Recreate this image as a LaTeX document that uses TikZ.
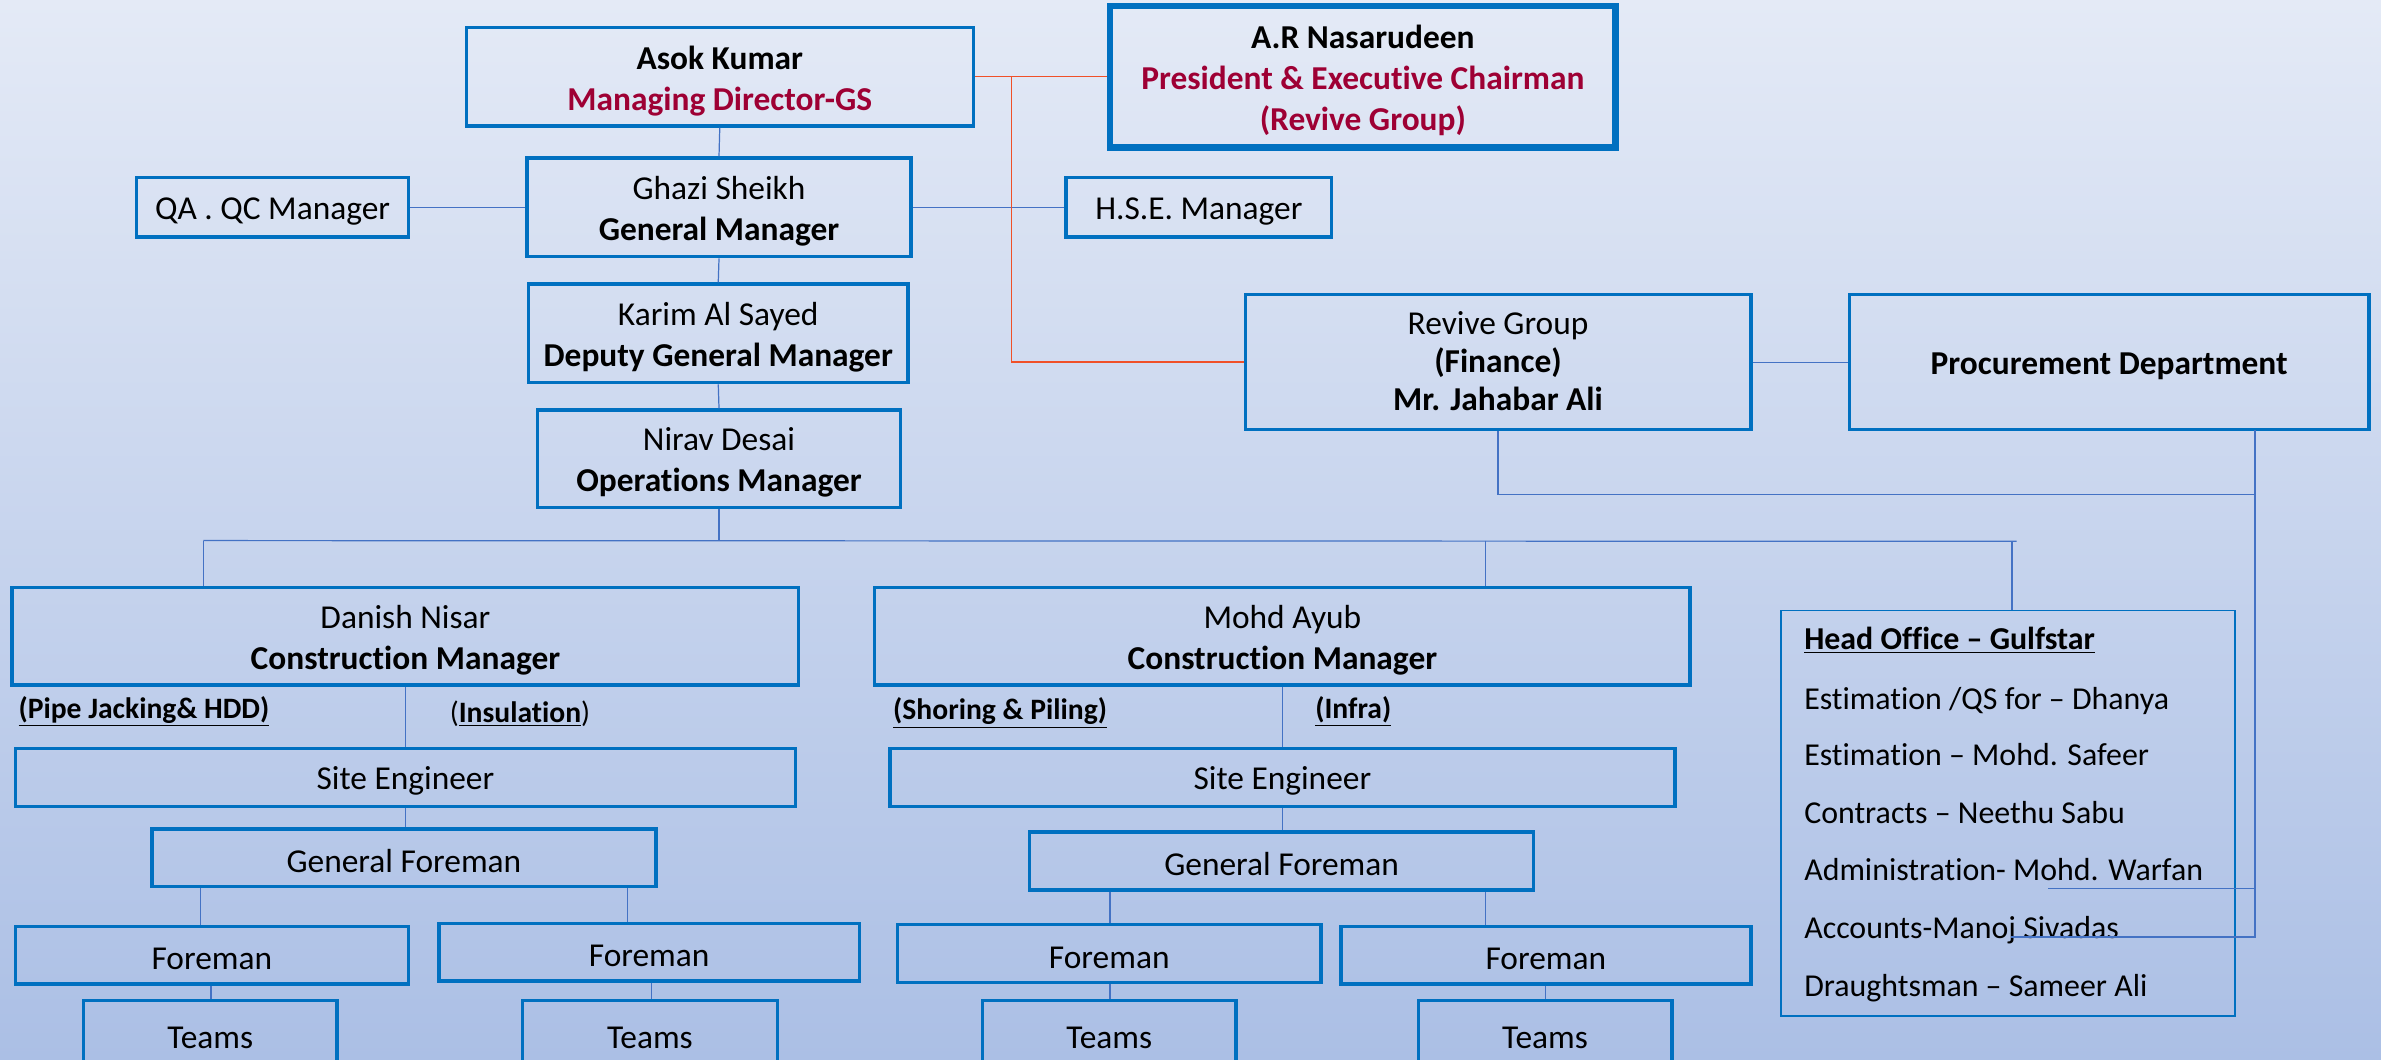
\documentclass[tikz,border=0pt]{standalone}
\usepackage{fontspec}
\setmainfont{Carlito}[Ligatures={NoCommon}]
\definecolor{boxblue}{RGB}{0,112,192}
\definecolor{linkblue}{RGB}{68,114,196}
\definecolor{linkred}{RGB}{240,80,40}
\definecolor{titlered}{RGB}{158,0,52}
\definecolor{bgtop}{RGB}{228,234,246}
\definecolor{bgmid}{RGB}{196,211,236}
\definecolor{bgbot}{RGB}{171,191,229}
\begin{document}
\begin{tikzpicture}[x=1pt,y=-1pt,
  box/.style={draw=boxblue, line width=2.2pt, inner sep=0pt, align=center, font=\fontsize{22}{27}\selectfont,
    execute at begin node={\rule{0pt}{19.5pt}}},
  twobox/.style={box, execute at begin node={}, text height=44pt, text depth=0pt},
  bigbox/.style={box, line width=4.4pt, execute at begin node={}, text height=71pt, text depth=0pt},
  thinbox/.style={draw=boxblue, line width=1.2pt, inner sep=0pt},
  link/.style={draw=linkblue, line width=0.8pt},
  rlink/.style={draw=linkred, line width=0.9pt},
  tag/.style={font=\fontsize{19.5}{22}\selectfont\bfseries, inner sep=0pt, anchor=base west},
  tagplain/.style={font=\fontsize{19.5}{22}\selectfont, inner sep=0pt, anchor=base west},
  hotext/.style={font=\fontsize{21}{26}\selectfont, inner sep=0pt, anchor=base west}]
\useasboundingbox (0,0) rectangle (1568,698);
\clip (0,0) rectangle (1568,698);
\shade[top color=bgtop, middle color=bgmid, bottom color=bgbot] (0,0) rectangle (1568,698);

% top boxes
\node[twobox, minimum width=334pt, minimum height=65pt] (asok) at (474,50.5)
  {\textbf{Asok Kumar}\\\textcolor{titlered}{\textbf{Managing Director-GS}}};
\node[bigbox, minimum width=333pt, minimum height=93pt] (arn) at (897.5,50.5)
  {\textbf{A.R Nasarudeen}\\\textcolor{titlered}{\textbf{President \& Executive Chairman}}\\\textcolor{titlered}{\textbf{(Revive Group)}}};
\node[twobox, minimum width=253pt, minimum height=65pt] (ghazi) at (473.5,136.5)
  {Ghazi Sheikh\\\textbf{General Manager}};
\node[box, minimum width=179pt, minimum height=39pt] (qa) at (179.5,136.5) {QA . QC Manager};
\node[box, minimum width=175pt, minimum height=39pt] (hse) at (789.5,136.5) {H.S.E. Manager};
\node[twobox, minimum width=250pt, minimum height=65pt] (karim) at (473,219.5)
  {Karim Al Sayed\\\textbf{Deputy General Manager}};
\node[twobox, minimum width=239pt, minimum height=64pt] (nirav) at (473.5,302)
  {Nirav Desai\\\textbf{Operations Manager}};
\node[box, minimum width=333pt, minimum height=89pt, font=\fontsize{22}{25}\selectfont,
  execute at begin node={}, text height=64pt, text depth=0pt] (revive) at (986.5,238.5)
  {Revive Group\\\textbf{(Finance)}\\\textbf{Mr. Jahabar Ali}};
\node[box, minimum width=342pt, minimum height=89pt] (proc) at (1389,238.5)
  {\textbf{Procurement Department}};

% construction managers
\node[twobox, minimum width=518pt, minimum height=64pt] (danish) at (267,419)
  {Danish Nisar\\\textbf{Construction Manager}};
\node[twobox, minimum width=537pt, minimum height=64pt] (ayub) at (844.5,419)
  {Mohd Ayub\\\textbf{Construction Manager}};

% head office
\node[thinbox, minimum width=299pt, minimum height=267pt] (head) at (1322.5,535.5) {};
\node[hotext] (ho1) at (1188,428) {\textbf{\underline{Head Office – Gulfstar}}};
\node[hotext] (ho2) at (1188,467) {Estimation /QS for – Dhanya};
\node[hotext] (ho3) at (1188,504) {Estimation – Mohd. Safeer};
\node[hotext] (ho4) at (1188,542) {Contracts – Neethu Sabu};
\node[hotext] (ho5) at (1188,580) {Administration- Mohd. Warfan};
\node[hotext] (ho6) at (1188,618) {Accounts-Manoj Sivadas};
\node[hotext] (ho7) at (1188,656) {Draughtsman – Sameer Ali};

% tags
\node[tag] (t1) at (12,473) {\underline{(Pipe Jacking\& HDD)}};
\node[tagplain] (t2) at (296,476) {(\textbf{\underline{Insulation}})};
\node[tag] (t3) at (588,474) {\underline{(Shoring \& Piling)}};
\node[tag] (t4) at (866,473) {\underline{(Infra)}};

% left branch
\node[box, minimum width=514pt, minimum height=38pt] (se1) at (267,512) {Site Engineer};
\node[box, minimum width=332pt, minimum height=38pt] (gf1) at (266,565) {General Foreman};
\node[box, minimum width=259pt, minimum height=38pt] (fm1) at (139.5,629) {Foreman};
\node[box, minimum width=277pt, minimum height=38pt] (fm2) at (427.5,627) {Foreman};
\node[box, minimum width=167pt, minimum height=44pt] (tm1) at (138.5,681) {Teams};
\node[box, minimum width=168pt, minimum height=44pt] (tm2) at (428,681) {Teams};

% right branch
\node[box, minimum width=517pt, minimum height=38pt] (se2) at (844.5,512) {Site Engineer};
\node[box, minimum width=332pt, minimum height=38pt] (gf2) at (844,567) {General Foreman};
\node[box, minimum width=279pt, minimum height=38pt] (fm3) at (730.5,628) {Foreman};
\node[box, minimum width=270pt, minimum height=38pt] (fm4) at (1018,629) {Foreman};
\node[box, minimum width=167pt, minimum height=44pt] (tm3) at (730.5,681) {Teams};
\node[box, minimum width=167pt, minimum height=44pt] (tm4) at (1017.5,681) {Teams};

% connectors: top
\draw[link] (asok.south) -- (ghazi.north);
\draw[link] (ghazi.south) -- (karim.north);
\draw[link] (karim.south) -- (nirav.north);
\draw[link] (qa.east) -- (ghazi.west);
\draw[link] (ghazi.east) -- (hse.west);
\draw[rlink] (asok.east) -- (arn.west);
\coordinate (rj) at (666,50);
\draw[rlink] (rj) -- (rj |- revive.west) -- (revive.west);

% bus from operations manager
\coordinate (busL) at (134,356);
\coordinate (busA) at (978,356);
\coordinate (busH) at (1325,356.5);
\coordinate (busR) at (1328,356.5);
\draw[link] (nirav.south) -- (nirav.south |- busL);
\draw[link] (busL) -- (busR);
\draw[link] (busL) -- (busL |- danish.north);
\draw[link] (busA) -- (busA |- ayub.north);
\draw[link] (busH) -- (busH |- head.north);

% finance / procurement links
\draw[link] (revive.east) -- (proc.west);
\coordinate (pd) at (1485,283.5);
\coordinate (pj) at (1485,325.5);
\coordinate (a1) at (1485,617);
\coordinate (a2) at (1324,617);
\coordinate (b1) at (1485,585);
\coordinate (b2) at (1349,585);
\draw[link] (revive.south) |- (pj);
\draw[link] (pd) -- (a1) -- (a2);
\draw[link] (b1) -- (b2);

% left branch links
\coordinate (x1) at (132,0);
\coordinate (x2) at (413,0);
\coordinate (x3) at (139,0);
\coordinate (x4) at (429,0);
\draw[link] (danish.south) -- (se1.north);
\draw[link] (se1.south) -- (se1.south |- gf1.north);
\draw[link] (x1 |- gf1.south) -- (x1 |- fm1.north);
\draw[link] (x2 |- gf1.south) -- (x2 |- fm2.north);
\draw[link] (x3 |- fm1.south) -- (x3 |- tm1.north);
\draw[link] (x4 |- fm2.south) -- (x4 |- tm2.north);

% right branch links
\coordinate (y1) at (731,0);
\coordinate (y2) at (978,0);
\coordinate (y3) at (1018,0);
\draw[link] (ayub.south) -- (se2.north);
\draw[link] (se2.south) -- (se2.south |- gf2.north);
\draw[link] (y1 |- gf2.south) -- (y1 |- fm3.north);
\draw[link] (y2 |- gf2.south) -- (y2 |- fm4.north);
\draw[link] (y1 |- fm3.south) -- (y1 |- tm3.north);
\draw[link] (y3 |- fm4.south) -- (y3 |- tm4.north);
\end{tikzpicture}
\end{document}
